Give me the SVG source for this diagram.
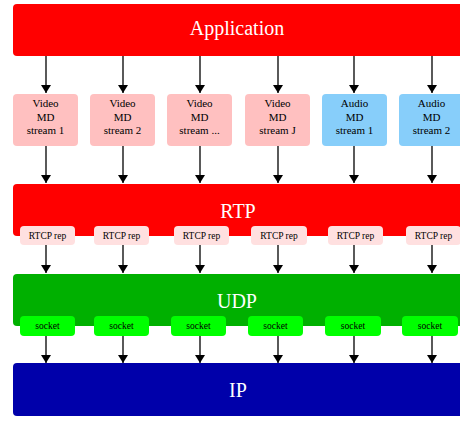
<svg xmlns="http://www.w3.org/2000/svg" width="460" height="421" viewBox="0 0 460 421">
<style>
.bar{stroke:none}
.bt{font-family:"Liberation Serif","Times New Roman",serif;font-size:20px;fill:#fff;text-anchor:middle}
.md{font-family:"Liberation Serif","Times New Roman",serif;font-size:11px;fill:#000;text-anchor:middle}
.sm{font-family:"Liberation Serif","Times New Roman",serif;font-size:9.5px;fill:#000;text-anchor:middle}
.e{stroke:#000;stroke-width:1.3;fill:none;marker-end:url(#ah)}
</style>
<defs>
<marker id="ah" markerWidth="8" markerHeight="10" refX="8" refY="5" orient="auto" markerUnits="userSpaceOnUse" viewBox="0 0 8 10">
<path d="M0,0 L8,5 L0,10 Z" fill="#000"/>
</marker>
</defs>
<g id="app"><rect class="bar" x="13" y="4" width="452" height="52" rx="4" fill="#ff0000"/><text class="bt" x="237" y="35">Application</text></g>
<g id="md1"><rect x="13" y="94" width="65" height="52" rx="4" fill="#ffc0c0"/><text class="md" x="45.5" y="107">Video</text><text class="md" x="45.5" y="121">MD</text><text class="md" x="45.5" y="134">stream 1</text></g>
<g id="md2"><rect x="90" y="94" width="65" height="52" rx="4" fill="#ffc0c0"/><text class="md" x="122.5" y="107">Video</text><text class="md" x="122.5" y="121">MD</text><text class="md" x="122.5" y="134">stream 2</text></g>
<g id="md3"><rect x="167" y="94" width="65" height="52" rx="4" fill="#ffc0c0"/><text class="md" x="199.5" y="107">Video</text><text class="md" x="199.5" y="121">MD</text><text class="md" x="199.5" y="134">stream ...</text></g>
<g id="md4"><rect x="245" y="94" width="65" height="52" rx="4" fill="#ffc0c0"/><text class="md" x="277.5" y="107">Video</text><text class="md" x="277.5" y="121">MD</text><text class="md" x="277.5" y="134">stream J</text></g>
<g id="md5"><rect x="322" y="94" width="65" height="52" rx="4" fill="#87cefa"/><text class="md" x="354.5" y="107">Audio</text><text class="md" x="354.5" y="121">MD</text><text class="md" x="354.5" y="134">stream 1</text></g>
<g id="md6"><rect x="399" y="94" width="65" height="52" rx="4" fill="#87cefa"/><text class="md" x="431.5" y="107">Audio</text><text class="md" x="431.5" y="121">MD</text><text class="md" x="431.5" y="134">stream 2</text></g>
<g id="rtp"><rect class="bar" x="13" y="184" width="452" height="52" rx="4" fill="#ff0000"/><text class="bt" x="238" y="218">RTP</text></g>
<g id="r1"><rect x="20" y="226" width="55" height="19" rx="4" fill="#ffe0e0"/><text class="sm" x="47.5" y="239">RTCP rep</text></g>
<g id="r2"><rect x="94" y="226" width="55" height="19" rx="4" fill="#ffe0e0"/><text class="sm" x="121.5" y="239">RTCP rep</text></g>
<g id="r3"><rect x="174" y="226" width="55" height="19" rx="4" fill="#ffe0e0"/><text class="sm" x="201.5" y="239">RTCP rep</text></g>
<g id="r4"><rect x="251" y="226" width="56" height="19" rx="4" fill="#ffe0e0"/><text class="sm" x="279" y="239">RTCP rep</text></g>
<g id="r5"><rect x="328" y="226" width="55" height="19" rx="4" fill="#ffe0e0"/><text class="sm" x="355.5" y="239">RTCP rep</text></g>
<g id="r6"><rect x="406" y="226" width="55" height="19" rx="4" fill="#ffe0e0"/><text class="sm" x="433.5" y="239">RTCP rep</text></g>
<g id="udp"><rect class="bar" x="13" y="274" width="452" height="52" rx="4" fill="#00b000"/><text class="bt" x="237" y="308">UDP</text></g>
<g id="s1"><rect x="20" y="316" width="55" height="20" rx="4" fill="#00ff00"/><text class="sm" x="47.5" y="329">socket</text></g>
<g id="s2"><rect x="94" y="316" width="55" height="20" rx="4" fill="#00ff00"/><text class="sm" x="121.5" y="329">socket</text></g>
<g id="s3"><rect x="171" y="316" width="55" height="20" rx="4" fill="#00ff00"/><text class="sm" x="198.5" y="329">socket</text></g>
<g id="s4"><rect x="248" y="316" width="55" height="20" rx="4" fill="#00ff00"/><text class="sm" x="275.5" y="329">socket</text></g>
<g id="s5"><rect x="325" y="316" width="56" height="20" rx="4" fill="#00ff00"/><text class="sm" x="353" y="329">socket</text></g>
<g id="s6"><rect x="402" y="316" width="56" height="20" rx="4" fill="#00ff00"/><text class="sm" x="430" y="329">socket</text></g>
<g id="ip"><rect class="bar" x="13" y="363" width="452" height="53" rx="4" fill="#0000aa"/><text class="bt" x="238" y="397">IP</text></g>
<g id="edges">
<path class="e" d="M46,56 V93"/><path class="e" d="M123,56 V93"/><path class="e" d="M200,56 V93"/><path class="e" d="M278,56 V93"/><path class="e" d="M354,56 V93"/><path class="e" d="M432,56 V93"/>
<path class="e" d="M46,146 V183"/><path class="e" d="M123,146 V183"/><path class="e" d="M200,146 V183"/><path class="e" d="M278,146 V183"/><path class="e" d="M354,146 V183"/><path class="e" d="M432,146 V183"/>
<path class="e" d="M46,245 V273"/><path class="e" d="M123,245 V273"/><path class="e" d="M200,245 V273"/><path class="e" d="M278,245 V273"/><path class="e" d="M354,245 V273"/><path class="e" d="M432,245 V273"/>
<path class="e" d="M46,336 V363"/><path class="e" d="M123,336 V363"/><path class="e" d="M200,336 V363"/><path class="e" d="M278,336 V363"/><path class="e" d="M354,336 V363"/><path class="e" d="M432,336 V363"/>
</g>
</svg>
